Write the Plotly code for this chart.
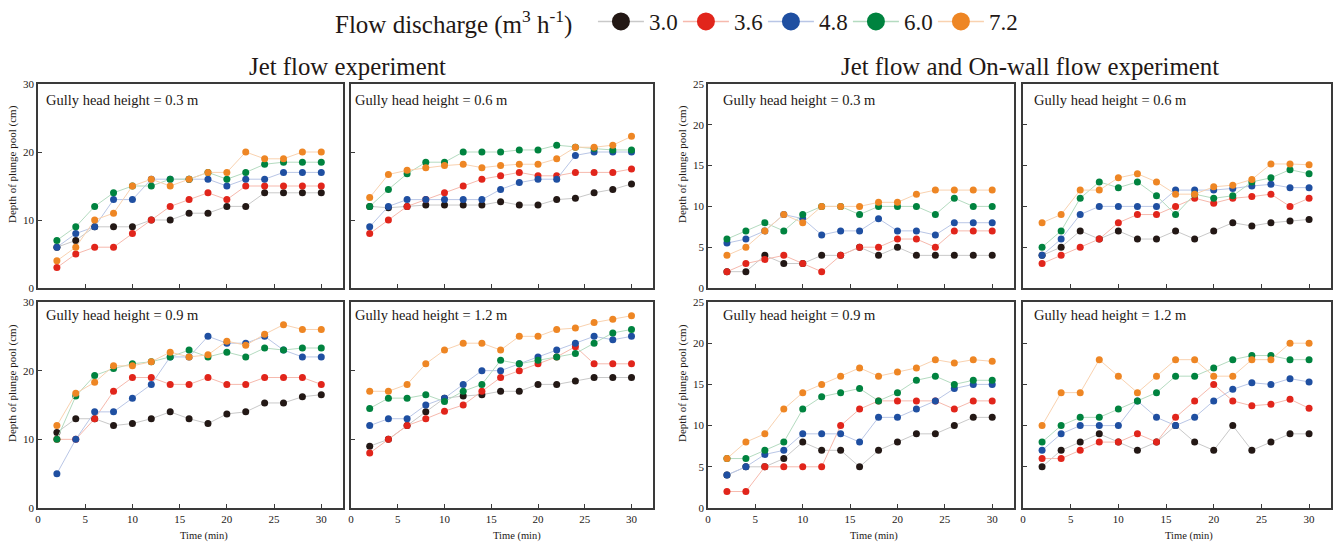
import plotly.graph_objects as go

# Sampling times (min)
time_min = [2, 4, 6, 8, 10, 12, 14, 16, 18, 20, 22, 24, 26, 28, 30]

# Flow discharge classes (m3 h-1)
discharge_labels = ["3.0", "3.6", "4.8", "6.0", "7.2"]

# Depth of plunge pool (cm); rows follow discharge_labels
# Jet flow experiment
jet_h03 = [
    [6, 7, 9, 9, 9, 10, 10, 11, 11, 12, 12, 14, 14, 14, 14],
    [3, 5, 6, 6, 8, 10, 12, 13, 14, 13, 15, 15, 15, 15, 15],
    [6, 8, 9, 13, 13, 16, 16, 16, 16, 15, 16, 16, 17, 17, 17],
    [7, 9, 12, 14, 15, 15, 16, 16, 17, 16, 17, 18.2, 18.5, 18.5, 18.5],
    [4, 6, 10, 11, 15, 16, 15, 16, 17, 17, 20, 19, 19, 20, 20],
]
jet_h06 = [
    [12, 11.8, 12, 12.2, 12.2, 12.2, 12.2, 12.7, 12.2, 12.2, 13, 13.2, 14, 14.5, 15.3],
    [8, 10, 12, 13, 14, 15, 16, 16.5, 17, 16.5, 16.5, 17, 17, 17, 17.5],
    [9, 12, 13, 13, 13, 13, 13, 14.5, 15.5, 16, 16, 19.5, 20, 20, 20],
    [12, 14.5, 16.8, 18.5, 18.5, 20, 20, 20, 20.3, 20.3, 21, 20.7, 20.5, 20.3, 20.3],
    [13.3, 16.7, 17.3, 17.7, 18, 18.2, 17.7, 18, 18.2, 18.2, 19, 20.7, 20.7, 21, 22.3],
]
jet_h09 = [
    [11, 13, 13, 12, 12.3, 13, 14, 13, 12.3, 13.7, 14, 15.3, 15.3, 16.2, 16.5],
    [10, 10, 13, 17, 19, 19, 18, 18, 19, 18, 18, 19, 19, 19, 18],
    [5, 10, 14, 14, 16, 18, 22, 22, 25, 24, 24, 25, 23, 22, 22],
    [10, 16.3, 19.3, 20.3, 21, 21.3, 22, 23, 22, 22.7, 22, 23.3, 23, 23.3, 23.3],
    [12, 16.7, 18.3, 20.7, 20.7, 21.3, 22.7, 22, 22.3, 24.3, 23.7, 25.3, 26.7, 26, 26],
]
jet_h12 = [
    [9, 10, 12, 14, 16, 16.3, 16.5, 17, 17, 18, 18, 18.5, 19, 19, 19],
    [8, 10, 12, 13, 14.1, 15, 17, 19, 20, 21, 22, 23.5, 21, 21, 21],
    [12, 13, 13, 15, 16, 18, 20, 20, 21, 22, 23, 24, 25, 24.5, 25],
    [14.5, 16, 16, 16.5, 15.5, 17, 18, 21.5, 21, 21.5, 22, 22.5, 24, 25.5, 26],
    [17, 17, 18, 21, 23, 24, 24, 23, 25, 25, 26, 26.2, 27, 27.5, 28],
]
# Jet flow and On-wall flow experiment
wall_h03 = [
    [2, 2, 4, 3, 3, 4, 4, 5, 4, 5, 4, 4, 4, 4, 4],
    [2, 3, 3.5, 4, 3, 2, 4, 5, 5, 6, 6, 5, 7, 7, 7],
    [5.5, 6, 7, 9, 8.5, 6.5, 7, 7, 8.5, 7, 7, 6.5, 8, 8, 8],
    [6, 7, 8, 7, 9, 10, 10, 9, 10, 10, 10, 9, 11, 10, 10],
    [4, 5, 7, 9, 8, 10, 10, 10, 10.5, 10.5, 11.5, 12, 12, 12, 12],
]
wall_h06 = [
    [4, 5, 7, 6, 7, 6, 6, 7, 6, 7, 8, 7.6, 8, 8.2, 8.4],
    [3, 4, 5, 6, 8, 9, 9, 10, 11, 10.4, 11, 11.2, 11.5, 10, 11],
    [4, 6, 9, 10, 10, 10, 10, 12, 12, 12, 12.2, 12.5, 12.7, 12.3, 12.3],
    [5, 7, 11, 13, 12.3, 13, 11.3, 9, 11.5, 11, 11.3, 13, 13.5, 14.5, 14],
    [8, 9, 12, 12, 13.5, 14, 13, 11.5, 11.5, 12.4, 12.6, 13.3, 15.2, 15.2, 15.1],
]
wall_h09 = [
    [4, 5, 5, 6, 8, 7, 7, 5, 7, 8, 9, 9, 10, 11, 11],
    [2, 2, 5, 5, 5, 5, 10, 12, 13, 13, 13, 13, 12, 13, 13],
    [4, 5, 6.5, 7, 9, 9, 9, 8, 11, 11, 12, 13, 14.5, 15, 15],
    [6, 6, 7, 8, 12, 13.5, 14, 14.5, 13, 14, 15.5, 16, 15, 15.5, 15.5],
    [6, 8, 9, 12, 14, 15, 16, 17, 16, 16.5, 17, 18, 17.6, 18, 17.8],
]
wall_h12 = [
    [5, 7, 8, 9, 8, 7, 8, 10, 8, 7, 10, 7, 8, 9, 9],
    [6, 6, 7, 8, 8, 9, 8, 11, 13, 15, 13, 12.4, 12.6, 13.2, 12.1],
    [7, 9, 10, 10, 10, 13, 11, 10, 11, 13, 14.4, 15.2, 15, 15.7, 15.3],
    [8, 10, 11, 11, 12, 13, 14, 16, 16, 17, 18, 18.5, 18.5, 18, 18],
    [10, 14, 14, 18, 16, 14, 16, 18, 18, 16, 16, 18, 18, 20, 20],
]

panel_labels = ["Gully head height = 0.3 m", "Gully head height = 0.6 m",
                "Gully head height = 0.9 m", "Gully head height = 1.2 m"]
group_titles = ["Jet flow experiment", "Jet flow and On-wall flow experiment"]

SERIF = "Liberation Serif, Times New Roman, serif"
TEXT = "#231815"
AXIS = "#3a3a3a"
marker_colors = ["#231815", "#E1251B", "#1F4FA1", "#00833F", "#EE8624"]
line_colors = ["#c9c9c9", "#f6b9ad", "#b9c6e6", "#b4dbc0", "#f9d2b0"]

W, H = 1334, 545


def fx(px):
    return px / W


def fy(py):
    return 1 - py / H


# Panel frames in pixels: (left, right, top, bottom)
cols = [(38, 343), (351, 653), (708, 1014), (1023, 1331)]
rows = [(84, 288), (302, 508)]

# (data, column index, row index, y max, y dtick)
panels = [
    (jet_h03, 0, 0, 30, 10),
    (jet_h06, 1, 0, 30, 10),
    (jet_h09, 0, 1, 30, 10),
    (jet_h12, 1, 1, 30, 10),
    (wall_h03, 2, 0, 25, 5),
    (wall_h06, 3, 0, 25, 5),
    (wall_h09, 2, 1, 25, 5),
    (wall_h12, 3, 1, 25, 5),
]

fig = go.Figure()
layout = {}
annotations = []

for k, (data, ci, ri, ymax, ydt) in enumerate(panels, start=1):
    xa = "x" if k == 1 else f"x{k}"
    ya = "y" if k == 1 else f"y{k}"
    for s, series in enumerate(data):
        fig.add_trace(go.Scatter(
            x=time_min, y=series, mode="lines+markers",
            xaxis=xa, yaxis=ya, showlegend=False,
            name=discharge_labels[s],
            line=dict(color=line_colors[s], width=1),
            marker=dict(color=marker_colors[s], size=7),
        ))
    left, right = cols[ci]
    top, bottom = rows[ri]
    common = dict(showline=True, mirror=True, linecolor=AXIS, linewidth=1.5,
                  ticks="inside", ticklen=4, tickwidth=1, tickcolor=AXIS,
                  showgrid=False, zeroline=False, automargin=False,
                  tickfont=dict(family=SERIF, size=11, color=TEXT))
    layout["xaxis" if k == 1 else f"xaxis{k}"] = dict(
        common, domain=[fx(left), fx(right)], range=[0, 32.3],
        tick0=0, dtick=5, anchor=ya, showticklabels=(ri == 1))
    layout["yaxis" if k == 1 else f"yaxis{k}"] = dict(
        common, domain=[fy(bottom), fy(top)], range=[0, ymax],
        tick0=0, dtick=ydt, anchor=xa, showticklabels=(ci in (0, 2)))
    # Panel caption
    pad = 6 if ci == 0 else (2 if ci == 1 else (13 if ci == 2 else 9))
    annotations.append(dict(
        text=panel_labels[(k - 1) % 4], xref="paper", yref="paper",
        x=fx(left + pad), y=fy(top + 16 if ri == 0 else top + 13),
        xanchor="left", yanchor="middle", showarrow=False,
        font=dict(family=SERIF, size=14.5, color=TEXT)))

# Axis titles
for xpx in (12, 682):
    for ypx in (164, 383):
        annotations.append(dict(
            text="Depth of plunge pool (cm)", xref="paper", yref="paper",
            x=fx(xpx), y=fy(ypx), textangle=-90, showarrow=False,
            xanchor="center", yanchor="middle",
            font=dict(family=SERIF, size=11, color=TEXT)))
for xpx in (204, 517, 874, 1189):
    annotations.append(dict(
        text="Time (min)", xref="paper", yref="paper",
        x=fx(xpx), y=fy(536), showarrow=False,
        xanchor="center", yanchor="middle",
        font=dict(family=SERIF, size=10.5, color=TEXT)))

# Group titles
for title, xpx in zip(group_titles, (347, 1030)):
    annotations.append(dict(
        text=title, xref="paper", yref="paper", x=fx(xpx), y=fy(66),
        showarrow=False, xanchor="center", yanchor="middle",
        font=dict(family=SERIF, size=24.8, color=TEXT)))

# Legend entries
for s, lab in enumerate(discharge_labels):
    fig.add_trace(go.Scatter(
        x=[None], y=[None], mode="lines+markers", name=lab,
        line=dict(color=line_colors[s], width=1.5),
        marker=dict(color=marker_colors[s], size=20,
                    line=dict(color=marker_colors[s], width=2)),
        showlegend=True,
    ))

fig.update_layout(
    width=W, height=H,
    margin=dict(l=0, r=0, t=0, b=0),
    paper_bgcolor="white", plot_bgcolor="white",
    font=dict(family=SERIF, color=TEXT),
    annotations=annotations,
    showlegend=True,
    legend=dict(
        orientation="h", x=fx(333), xanchor="left", y=1, yanchor="top",
        title=dict(text="Flow discharge (m<sup>3</sup> h<sup>-1</sup>)\u00a0\u00a0",
                   font=dict(family=SERIF, size=25, color=TEXT), side="left"),
        font=dict(family=SERIF, size=23, color=TEXT),
        itemwidth=46, entrywidth=24, itemsizing="trace",
        bgcolor="rgba(0,0,0,0)", borderwidth=0,
    ),
    **layout,
)

fig.write_html("out.html")
